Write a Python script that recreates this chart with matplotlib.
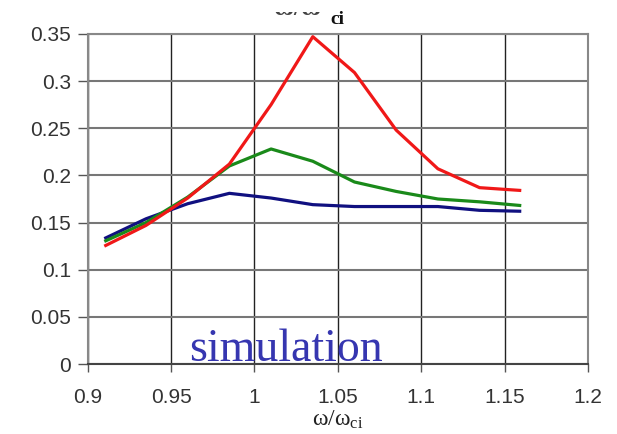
import matplotlib
matplotlib.use('Agg')
import matplotlib.pyplot as plt
from matplotlib.transforms import Bbox, TransformedBbox

plt.rcParams['mathtext.fontset'] = 'custom'
plt.rcParams['mathtext.rm'] = 'Liberation Serif'
plt.rcParams['mathtext.it'] = 'Liberation Serif'
plt.rcParams['mathtext.bf'] = 'Liberation Serif:bold'

# omega / omega_ci
freq = [0.91, 0.935, 0.96, 0.985, 1.01, 1.035, 1.06, 1.085, 1.11, 1.135, 1.16]
red = [0.125, 0.147, 0.176, 0.212, 0.275, 0.347, 0.309, 0.248, 0.207, 0.187, 0.184]
green = [0.130, 0.150, 0.177, 0.210, 0.228, 0.215, 0.193, 0.183, 0.175, 0.172, 0.168]
blue = [0.133, 0.154, 0.170, 0.181, 0.176, 0.169, 0.167, 0.167, 0.167, 0.163, 0.162]

xticks = [0.9, 0.95, 1, 1.05, 1.1, 1.15, 1.2]
xlabels = ['0.9', '0.95', '1', '1.05', '1.1', '1.15', '1.2']
yticks = [0, 0.05, 0.1, 0.15, 0.2, 0.25, 0.3, 0.35]
ylabels = ['0', '0.05', '0.1', '0.15', '0.2', '0.25', '0.3', '0.35']

fig = plt.figure(figsize=(6.17, 4.34), dpi=100)
ax = fig.add_axes([0.142, 0.161, 0.811, 0.761])

ax.plot(freq, blue, color='#101080', lw=2.3, solid_capstyle='butt')
ax.plot(freq, green, color='#1a8a1a', lw=2.3, solid_capstyle='butt')
ax.plot(freq, red, color='#f01818', lw=2.3, solid_capstyle='butt')

ax.set_xlim(0.9, 1.2)
ax.set_ylim(0, 0.35)
ax.set_xticks(xticks)
ax.set_xticklabels(xlabels)
ax.set_yticks(yticks)
ax.set_yticklabels(ylabels)
ax.tick_params(labelsize=15, colors='#555555', labelcolor='#333333', width=1)
ax.tick_params(axis='x', length=6, pad=11)
ax.tick_params(axis='y', length=7, pad=5)
for lab in ax.get_xticklabels() + ax.get_yticklabels():
    lab.set_family('Liberation Sans')

ax.grid(axis='x', color='#222222', lw=1.0)
ax.grid(axis='y', color='#777777', lw=1.5)
for s in ax.spines.values():
    s.set_color('#888888')
    s.set_linewidth(1.5)
ax.spines['bottom'].set_color('#444444')
ax.set_axisbelow(True)

ax.set_xlabel(r'$\omega/\omega_{\rm ci}$', fontsize=17, labelpad=0, color='#222222')

ax.text(1.019, 0.003, 'simulation', ha='center', va='baseline',
        fontsize=33, family='Liberation Serif', color='#3636b0')

# title, mostly cut off at the top of the image
t = fig.text(0.482, 1 - 15 / 434, r'$\mathbf{\omega/\omega}$', ha='center', va='baseline',
             fontsize=20, color='#444444')
t.set_clip_box(TransformedBbox(Bbox([[0, 0], [1, 1 - 12 / 434]]), fig.transFigure))
t.set_clip_on(True)
fig.text(0.546, 1 - 24 / 434, 'ci', ha='center', va='baseline', fontsize=14,
         family='Liberation Serif', weight='bold', color='#111111')

fig.savefig('out.png', dpi=100)
